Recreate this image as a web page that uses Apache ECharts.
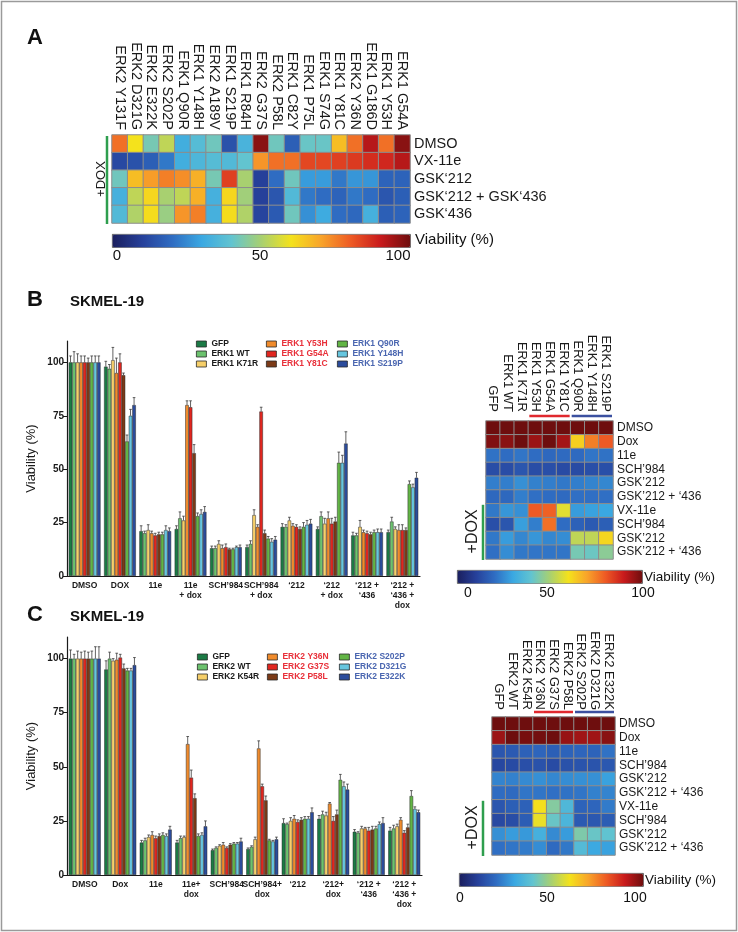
<!DOCTYPE html>
<html><head><meta charset="utf-8">
<script src="https://cdn.jsdelivr.net/npm/echarts@6/dist/echarts.min.js"></script>
<style>html,body{margin:0;padding:0;background:#fff}#c{width:738px;height:932px}</style>
</head><body><div id="c"></div>
<script>
const FONT = '"Liberation Sans", Arial, Helvetica, sans-serif';

// ---------- Panel A heatmap ----------
const heatA_cols = ['ERK2 Y131F','ERK2 D321G','ERK2 E322K','ERK2 S202P','ERK1 Q90R','ERK1 Y148H','ERK2 A189V','ERK1 S219P','ERK1 R84H','ERK2 G37S','ERK2 P58L','ERK1 C82Y','ERK1 P75L','ERK1 S74G','ERK1 Y81C','ERK2 Y36N','ERK1 G186D','ERK1 Y53H','ERK1 G54A'];
const heatA_rows = ['DMSO','VX-11e','GSK‘212','GSK‘212 + GSK‘436','GSK‘436'];
const heatA_DMSO      = [77, 60, 43, 53, 32, 37, 42, 14, 34, 97, 42, 17, 41, 41, 66, 77, 92, 77, 97];
const heatA_VX11e     = [12, 14, 17, 22, 32, 35, 37, 36, 40, 72, 77, 77, 83, 83, 84, 85, 87, 88, 92];
const heatA_GSK212    = [42, 66, 71, 75, 73, 68, 43, 84, 50, 10, 20, 42, 28, 28, 22, 27, 27, 18, 18];
const heatA_GSK212436 = [33, 53, 62, 50, 53, 68, 33, 62, 49, 10, 15, 36, 22, 20, 18, 22, 20, 15, 17];
const heatA_GSK436    = [36, 51, 61, 48, 72, 75, 33, 61, 51, 11, 16, 42, 26, 31, 20, 19, 33, 17, 18];
const heatA_values = [heatA_DMSO, heatA_VX11e, heatA_GSK212, heatA_GSK212436, heatA_GSK436];
const heatA_doxRows = [0, 4];

// ---------- Panel B bars (ERK1) ----------
const catsB = ['DMSO','DOX','11e','11e\n+ dox','SCH’984','SCH’984\n+ dox','‘212','‘212\n+ dox','‘212 +\n‘436','‘212 +\n‘436 +\ndox'];
const namesB = ['GFP','ERK1 WT','ERK1 K71R','ERK1 Y53H','ERK1 G54A','ERK1 Y81C','ERK1 Q90R','ERK1 Y148H','ERK1 S219P'];
const B_GFP   = [100, 98, 21, 22, 13, 13.5, 23, 22, 19, 20.5];
const B_WT    = [100, 97, 20, 27, 13, 15, 23, 28, 19, 25.5];
const B_K71R  = [100, 101, 21.5, 26, 15, 28.5, 26, 24.5, 23, 22];
const B_Y53H  = [100, 95, 20, 80, 13, 23, 23.5, 27, 20.5, 21.5];
const B_G54A  = [100, 100, 19, 79, 13.5, 77, 23, 24.5, 20, 21.5];
const B_Y81C  = [100, 94, 19.5, 57.5, 12.5, 20, 22, 25.5, 19.5, 21.5];
const B_Q90R  = [100, 63, 19.5, 28, 12.5, 17.5, 23, 53, 20.5, 43];
const B_Y148H = [100, 75, 21.5, 29, 13.5, 16, 24, 53, 20.5, 41.5];
const B_S219P = [100, 80, 21, 30, 13.5, 17, 24.5, 62, 20.5, 46];
const B_values = [B_GFP, B_WT, B_K71R, B_Y53H, B_G54A, B_Y81C, B_Q90R, B_Y148H, B_S219P];
const Be_GFP   = [3, 2.5, 2.5, 1.5, 1, 1, 1.5, 1, 1.5, 1];
const Be_WT    = [5, 2, 1, 3, 1, 1.5, 1, 2, 1, 2];
const Be_K71R  = [4, 6, 2.5, 2, 1.5, 2.5, 1.5, 2.5, 3, 1];
const Be_Y53H  = [3, 7, 1, 2, 1.5, 1, 1, 3, 1, 2.5];
const Be_G54A  = [3, 4, 1, 3, 1.5, 2, 1, 2.5, 1, 2.5];
const Be_Y81C  = [2, 1, 1, 4, 0.5, 1.5, 1, 2, 1, 1];
const Be_Q90R  = [3, 3, 1, 1.5, 0.5, 1, 2, 5, 1, 1.5];
const Be_Y148H = [3, 3, 2, 2, 0.5, 1.5, 2, 3.5, 1.5, 1.5];
const Be_S219P = [3, 3.5, 1.5, 2.5, 1, 1.5, 2, 5.5, 1.5, 2.5];
const B_errors = [Be_GFP, Be_WT, Be_K71R, Be_Y53H, Be_G54A, Be_Y81C, Be_Q90R, Be_Y148H, Be_S219P];

// ---------- Panel C bars (ERK2) ----------
const catsC = ['DMSO','Dox','11e','11e+\ndox','SCH’984','SCH’984+\ndox','‘212','‘212+\ndox','‘212 +\n‘436','‘212 +\n‘436 +\ndox'];
const namesC = ['GFP','ERK2 WT','ERK2 K54R','ERK2 Y36N','ERK2 G37S','ERK2 P58L','ERK2 S202P','ERK2 D321G','ERK2 E322K'];
const C_GFP   = [100, 95, 15, 15, 11.5, 12, 24, 26, 20, 20.5];
const C_WT    = [100, 100, 16, 17, 12.5, 13, 23.5, 28, 19.5, 21.5];
const C_K54R  = [100, 99, 17.5, 17.5, 13.5, 16.5, 25, 27.5, 21.5, 22.5];
const C_Y36N  = [100, 99.5, 18.5, 60.5, 14, 58.5, 26, 33, 21.5, 25.5];
const C_G37S  = [100, 100.5, 17, 45, 12.5, 41, 24.5, 25, 20.5, 19.5];
const C_P58L  = [100, 95.5, 18, 35.5, 14, 34.5, 25.5, 28, 21, 22];
const C_S202P = [100, 94.5, 18.5, 18, 14.5, 16, 26, 44, 21.5, 36.5];
const C_D321G = [100, 94.5, 18, 18.5, 14.5, 15.5, 26, 41, 23.5, 30.5];
const C_E322K = [100, 97, 21, 22.5, 15.5, 16.5, 29, 39.5, 24, 29];
const C_values = [C_GFP, C_WT, C_K54R, C_Y36N, C_G37S, C_P58L, C_S202P, C_D321G, C_E322K];
const Ce_GFP   = [4, 4, 1, 1, 0.5, 0.5, 2, 1.5, 1, 1.5];
const Ce_WT    = [2, 3, 1, 1, 0.5, 0.5, 0.5, 1.5, 0.5, 1.5];
const Ce_K54R  = [3.5, 1, 1, 0.5, 0.5, 1, 1.5, 1.5, 1, 1];
const Ce_Y36N  = [3, 3, 1.5, 3.5, 1, 3.5, 1.5, 0.5, 0.5, 1];
const Ce_G37S  = [3.5, 1.5, 1, 3.5, 0.5, 1, 1, 2, 1.5, 1];
const Ce_P58L  = [3, 2, 1, 2, 0.5, 2, 1, 2, 1.5, 1.5];
const Ce_S202P = [3.5, 1, 1, 1, 0.5, 0.5, 1, 2.5, 1, 2.5];
const Ce_D321G = [5.5, 1, 1, 1, 0.5, 0.5, 1, 2, 1, 1];
const Ce_E322K = [5.5, 3.5, 1.5, 2.5, 1.5, 1, 2, 2.5, 2.5, 1];
const C_errors = [Ce_GFP, Ce_WT, Ce_K54R, Ce_Y36N, Ce_G37S, Ce_P58L, Ce_S202P, Ce_D321G, Ce_E322K];

// ---------- Heatmaps B / C (rows drawn from bar categories) ----------
const heatB_cols = ['GFP','ERK1 WT','ERK1 K71R','ERK1 Y53H','ERK1 G54A','ERK1 Y81C','ERK1 Q90R','ERK1 Y148H','ERK1 S219P'];
const heatC_cols = ['GFP','ERK2 WT','ERK2 K54R','ERK2 Y36N','ERK2 G37S','ERK2 P58L','ERK2 S202P','ERK2 D321G','ERK2 E322K'];
const heatBC_rows = ['DMSO','Dox','11e','SCH’984','GSK’212','GSK’212 + ‘436','VX-11e','SCH’984','GSK’212','GSK’212 + ‘436'];
const heatBC_rowSource = [0, 1, 2, 4, 6, 8, 3, 5, 7, 9];
const heatBC_doxRows = [6, 9];
const heatBC_groups = [[3, 5], [6, 8]];

const yTicks = [0, 25, 50, 75, 100];
const cbTicks = [0, 50, 100];

// ---------- styling ----------
const barColors = ['#1b7a45','#6cc26e','#f6cf6a','#f08b2c','#e1261f','#7b3a17','#62b545','#66c6df','#2b4c9c'];
const CMAP = ['#1b1f5e','#26409a','#2f6cc2','#3aa8e2','#62c4d0','#a8d070','#f4e21c','#f8a42a','#ee5a24','#c81a1c','#6e0e0e'];
const groupColors = ['#e0282e', '#3b50a0'];
const legendColors = ['#1a1a1a', '#e8303a', '#4a66b0'];

const chart = echarts.init(document.getElementById('c'), null, {renderer: 'canvas'});

function heatData(valuesByRow) {
  const d = [];
  valuesByRow.forEach((row, r) => row.forEach((v, c) => d.push([c, r, v])));
  return d;
}
function heatFromBars(vals) {
  return heatBC_rowSource.map(ci => vals.map(s => s[ci]));
}

function heatAxes(gi, cols, rows, colFont, rowFont, colMargin) {
  return {
    x: {type:'category', gridIndex:gi, data:cols, position:'top',
        axisLine:{show:false}, axisTick:{show:false}, splitLine:{show:false},
        axisLabel:{rotate:90, interval:0, fontSize:colFont, fontFamily:FONT, color:'#1a1a1a', margin:colMargin}},
    y: {type:'category', gridIndex:gi, data:rows, inverse:true, position:'right',
        axisLine:{show:false}, axisTick:{show:false}, splitLine:{show:false},
        axisLabel:{interval:0, fontSize:rowFont, fontFamily:FONT, color:'#1a1a1a', margin:4}}
  };
}
function barAxes(gi, cats) {
  return {
    x: {type:'category', gridIndex:gi, data:cats,
        axisLine:{lineStyle:{color:'#1a1a1a', width:1.2}},
        axisTick:{alignWithLabel:true, length:3, lineStyle:{color:'#1a1a1a'}},
        axisLabel:{interval:0, fontSize:8.5, fontWeight:'bold', fontFamily:FONT, color:'#1a1a1a', lineHeight:10, margin:5}},
    y: {type:'value', gridIndex:gi, min:0, max:110, interval:25,
        name:'Viability (%)', nameLocation:'middle', nameGap:29, nameRotate:90,
        nameTextStyle:{fontSize:13, fontFamily:FONT, color:'#1a1a1a'},
        axisLine:{show:true, lineStyle:{color:'#1a1a1a', width:1.2}},
        axisTick:{show:true, length:4, customValues:yTicks, lineStyle:{color:'#1a1a1a'}},
        axisLabel:{customValues:yTicks, fontSize:10, fontWeight:'bold', fontFamily:FONT, color:'#1a1a1a', margin:3},
        splitLine:{show:false}}
  };
}

function errRender(nSeries, gapFrac) {
  return function (params, api) {
    const cat = api.value(0), si = api.value(1), v = api.value(2), e = api.value(3);
    const band = api.size([1, 0])[0];
    const gw = band * (1 - gapFrac);
    const bw = gw / nSeries;
    const base = api.coord([cat, v]);
    const x = base[0] - gw / 2 + bw * (si + 0.5);
    const top = api.coord([cat, v + e])[1];
    const cap = Math.max(bw * 0.75, 2);
    const st = {stroke:'#3a3a3a', lineWidth:0.8};
    return {type:'group', children:[
      {type:'line', shape:{x1:x, y1:base[1], x2:x, y2:top}, style:st},
      {type:'line', shape:{x1:x - cap/2, y1:top, x2:x + cap/2, y2:top}, style:st}
    ]};
  };
}

function annotRender(lineOff, textOff, doxFont) {
  return function (params, api) {
    const a = api.value(0), b = api.value(1), kind = api.value(2);
    const cell = api.size([1, 1]);
    if (kind < 2) {
      const p1 = api.coord([a, 0]), p2 = api.coord([b, 0]);
      const y = p1[1] - cell[1] / 2 - 5;
      return {type:'line', shape:{x1:p1[0] - cell[0]/2 + 1, y1:y, x2:p2[0] + cell[0]/2 - 1, y2:y},
              style:{stroke:groupColors[kind], lineWidth:2.5}};
    }
    const p1 = api.coord([0, a]), p2 = api.coord([0, b]);
    const x = p1[0] - cell[0] / 2 - lineOff;
    const y1 = p1[1] - cell[1] / 2, y2 = p2[1] + cell[1] / 2;
    return {type:'group', children:[
      {type:'line', shape:{x1:x, y1:y1 + 1, x2:x, y2:y2 + 1}, style:{stroke:'#2e9e4e', lineWidth:2.5}},
      {type:'text', x:x - textOff, y:(y1 + y2) / 2, rotation:Math.PI / 2,
       style:{text:'+DOX', font:doxFont + 'px ' + FONT, fill:'#1a1a1a', align:'center', verticalAlign:'middle'}}
    ]};
  };
}

const grids = [
  {left:112, top:135, width:298, height:88},   // A heatmap
  {left:67, top:341, width:353, height:235},   // B bars
  {left:486, top:421, width:127, height:138},  // B heatmap
  {left:67, top:637, width:355, height:238},   // C bars
  {left:492, top:717, width:123, height:138}   // C heatmap
];
const hA = heatAxes(0, heatA_cols, heatA_rows, 14.5, 14.5, 5);
const bB = barAxes(1, catsB);
const hB = heatAxes(2, heatB_cols, heatBC_rows, 13, 12, 9);
const bC = barAxes(3, catsC);
const hC = heatAxes(4, heatC_cols, heatBC_rows, 13, 12, 7);

const series = [];
const heatStyle = {borderColor:'#8c8c8c', borderWidth:1};
// A
const idxA = series.length;
series.push({type:'heatmap', xAxisIndex:0, yAxisIndex:0, data:heatData(heatA_values), itemStyle:heatStyle, emphasis:{disabled:true}});
series.push({type:'custom', xAxisIndex:0, yAxisIndex:0, renderItem:annotRender(5, 6, 13), clip:false, silent:true,
             data:[[heatA_doxRows[0], heatA_doxRows[1], 2]]});
// B bars
function addBars(gi, names, vals, errs) {
  names.forEach((n, i) => series.push({type:'bar', name:n, xAxisIndex:gi, yAxisIndex:gi, data:vals[i],
    barGap:'0%', barCategoryGap:'10%', itemStyle:{color:barColors[i], borderColor:'#2a2a2a', borderWidth:0.5},
    emphasis:{disabled:true}}));
  const ed = [];
  vals.forEach((s, si) => s.forEach((v, ci) => ed.push([ci, si, v, errs[si][ci]])));
  series.push({type:'custom', xAxisIndex:gi, yAxisIndex:gi, renderItem:errRender(names.length, 0.1),
    encode:{x:0, y:2}, data:ed, clip:false, silent:true, z:5});
}
addBars(1, namesB, B_values, B_errors);
const idxB = series.length;
series.push({type:'heatmap', xAxisIndex:2, yAxisIndex:2, data:heatData(heatFromBars(B_values)), itemStyle:heatStyle, emphasis:{disabled:true}});
series.push({type:'custom', xAxisIndex:2, yAxisIndex:2, renderItem:annotRender(3, 10, 16), clip:false, silent:true,
  data:heatBC_groups.map((g, k) => [g[0], g[1], k]).concat([[heatBC_doxRows[0], heatBC_doxRows[1], 2]])});
addBars(3, namesC, C_values, C_errors);
const idxC = series.length;
series.push({type:'heatmap', xAxisIndex:4, yAxisIndex:4, data:heatData(heatFromBars(C_values)), itemStyle:heatStyle, emphasis:{disabled:true}});
series.push({type:'custom', xAxisIndex:4, yAxisIndex:4, renderItem:annotRender(9, 10, 16), clip:false, silent:true,
  data:heatBC_groups.map((g, k) => [g[0], g[1], k]).concat([[heatBC_doxRows[0], heatBC_doxRows[1], 2]])});

function cbar(si, left, top, len) {
  return {type:'continuous', seriesIndex:si, min:0, max:100, orient:'horizontal', left, top,
    itemWidth:13, itemHeight:len, calculable:false, inRange:{color:CMAP}, padding:0,
    borderColor:'#333', borderWidth:0.8, hoverLink:false};
}

function legendCol(names, left, top, color) {
  return {orient:'vertical', left, top, padding:0, itemGap:0, itemWidth:10, itemHeight:6, icon:'rect',
    selectedMode:false, data:names, itemStyle:{borderColor:'#2a2a2a', borderWidth:0.8},
    textStyle:{fontSize:8.5, fontWeight:'bold', fontFamily:FONT, color, lineHeight:10, padding:[0,0,0,0]}};
}
const legends = [
  legendCol(namesB.slice(0,3), 196, 339, legendColors[0]),
  legendCol(namesB.slice(3,6), 266, 339, legendColors[1]),
  legendCol(namesB.slice(6,9), 337, 339, legendColors[2]),
  legendCol(namesC.slice(0,3), 197, 652, legendColors[0]),
  legendCol(namesC.slice(3,6), 267, 652, legendColors[1]),
  legendCol(namesC.slice(6,9), 339, 652, legendColors[2])
];

function txt(text, x, y, size, opts) {
  return Object.assign({type:'text', x, y, silent:true,
    style:{text, font:(opts && opts.bold ? 'bold ' : '') + size + 'px ' + FONT, fill:'#111',
           align:(opts && opts.align) || 'left', verticalAlign:'middle'}});
}
const cbLabelPos = {A:[117, 260, 398], B:[468, 547, 643], C:[460, 547, 635]};
const graphic = [
  {type:'rect', silent:true, shape:{x:1.5, y:1.5, width:735, height:929}, style:{fill:'none', stroke:'#9a9a9a', lineWidth:1.5}},
  txt('A', 27, 38, 22, {bold:true}),
  txt('B', 27, 300, 22, {bold:true}),
  txt('SKMEL-19', 70, 302, 15, {bold:true}),
  txt('C', 27, 615, 22, {bold:true}),
  txt('SKMEL-19', 70, 617, 15, {bold:true}),
  txt('Viability (%)', 415, 240, 15),
  txt('Viability (%)', 644, 577, 13.5),
  txt('Viability (%)', 645, 880, 13.5)
];
cbTicks.forEach((t, i) => {
  graphic.push(txt(String(t), cbLabelPos.A[i], 256, 15, {align:'center'}));
  graphic.push(txt(String(t), cbLabelPos.B[i], 593, 14, {align:'center'}));
  graphic.push(txt(String(t), cbLabelPos.C[i], 898, 14, {align:'center'}));
});

chart.setOption({
  animation:false,
  backgroundColor:'#ffffff',
  textStyle:{fontFamily:FONT},
  grid:grids,
  xAxis:[hA.x, bB.x, hB.x, bC.x, hC.x],
  yAxis:[hA.y, bB.y, hB.y, bC.y, hC.y],
  legend:legends,
  visualMap:[cbar(idxA, 112, 234, 298), cbar(idxB, 457, 570, 185), cbar(idxC, 459, 873, 184)],
  series,
  graphic
});
</script></body></html>
